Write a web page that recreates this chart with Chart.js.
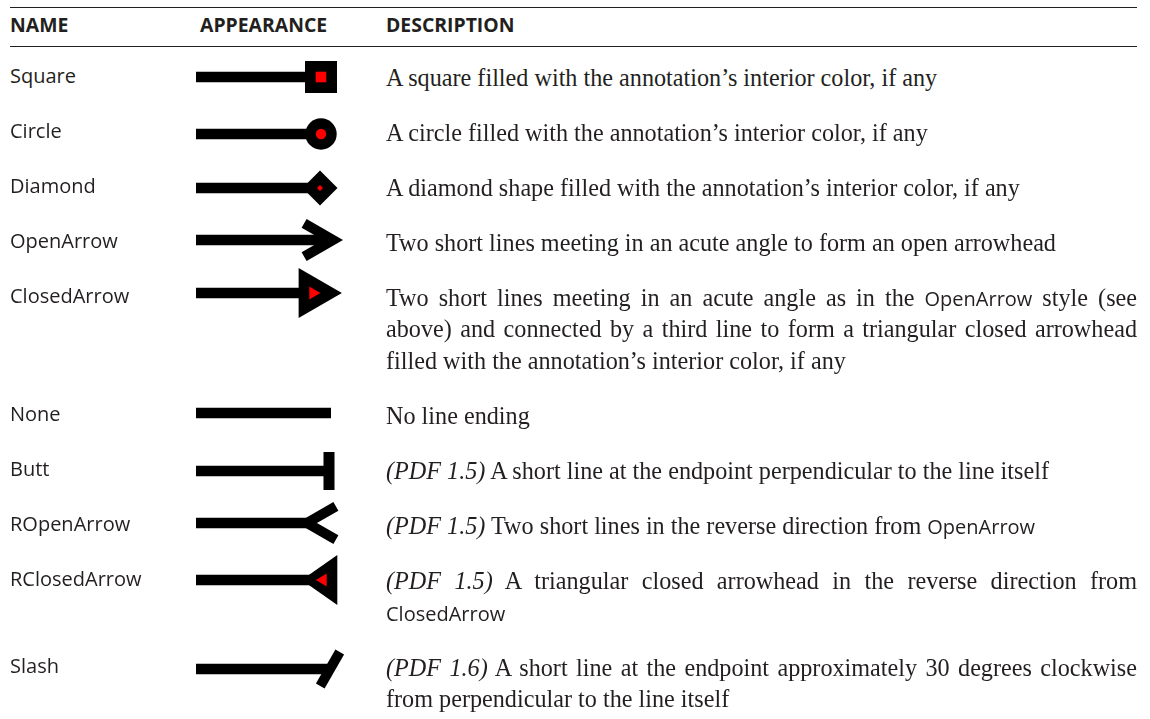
<!DOCTYPE html>
<html><head><meta charset="utf-8">
<script src="https://cdn.jsdelivr.net/npm/chart.js@4.4.1/dist/chart.umd.min.js"></script>
<style>
html,body{margin:0;padding:0;background:#fff;}
body{width:1150px;height:719px;position:relative;overflow:hidden;color:#231f20;}
.rule{position:absolute;left:10px;width:1127px;height:1px;background:#231f20;}
.hdr{position:absolute;top:14.6px;font-family:'Open Sans';font-weight:700;font-size:19.4px;line-height:20px;white-space:nowrap;}
#rows{position:absolute;left:0;top:47px;width:1150px;}
.row{position:relative;padding-top:14.8px;padding-bottom:8.5px;}
.name{position:absolute;left:10px;top:12.7px;font-family:'Open Sans';font-size:20px;line-height:31.7px;white-space:nowrap;}
.desc{margin-left:386px;width:751px;font-family:'Liberation Serif';font-size:24.2px;line-height:31.7px;}
.desc .ln{white-space:nowrap;height:31.7px;}
.desc .j{text-align:justify;text-align-last:justify;}
.sans{font-family:'Open Sans';font-size:20px;}
.glyph{position:absolute;left:180px;width:180px;height:70px;}
</style>
</head><body>
<div class="rule" style="top:7px"></div>
<div class="rule" style="top:46px"></div>
<div id="hdrs"></div>
<div id="rows"></div>
<script>
// ---- data ----
const HEADERS = ['NAME', 'APPEARANCE', 'DESCRIPTION'];
const NAMES = ['Square', 'Circle', 'Diamond', 'OpenArrow', 'ClosedArrow', 'None', 'Butt', 'ROpenArrow', 'RClosedArrow', 'Slash'];
const DESCRIPTIONS = [
  'A square filled with the annotation\u2019s interior color, if any',
  'A circle filled with the annotation\u2019s interior color, if any',
  'A diamond shape filled with the annotation\u2019s interior color, if any',
  'Two short lines meeting in an acute angle to form an open arrowhead',
  'Two short lines meeting in an acute angle as in the {OpenArrow} style (see\nabove) and connected by a third line to form a triangular closed arrowhead\nfilled with the annotation\u2019s interior color, if any',
  'No line ending',
  '[(PDF 1.5)] A short line at the endpoint perpendicular to the line itself',
  '[(PDF 1.5)] Two short lines in the reverse direction from {OpenArrow}',
  '[(PDF 1.5)] A triangular closed arrowhead in the reverse direction from\n{ClosedArrow}',
  '[(PDF 1.6)] A short line at the endpoint approximately 30 degrees clockwise\nfrom perpendicular to the line itself'
];
// each sample line runs from its start (0) to its endpoint (1)
const SHAFT_X = [0, 1];
const SHAFT_Y = [0, 0];

// ---- styling of the glyphs (pixels) ----
const GLYPH_LEFT = 180, GLYPH_W = 180, GLYPH_H = 70, SHAFT_START = 196;
const STYLE = {
  Square:       {end: 321, dy: -6.6},
  Circle:       {end: 321, dy: -4.5},
  Diamond:      {end: 320, dy: -5.5},
  OpenArrow:    {end: 333, dy: -8.5},
  ClosedArrow:  {end: 313, dy: -10},
  None:         {end: 331, dy: -8.2},
  Butt:         {end: 329, dy: -5.4},
  ROpenArrow:   {end: 307, dy: -8.9},
  RClosedArrow: {end: 312, dy: -6.5},
  Slash:        {end: 330, dy: -3.9}
};
const BLACK = '#000000', RED = '#ff0000';

function endImage(kind) {
  if (kind === 'None') return null;
  const c = document.createElement('canvas');
  c.width = 100; c.height = 80;
  const g = c.getContext('2d');
  g.translate(50, 40);
  g.fillStyle = BLACK; g.strokeStyle = BLACK;
  const poly = (pts, col) => { g.fillStyle = col; g.beginPath(); g.moveTo(pts[0][0], pts[0][1]); for (let i = 1; i < pts.length; i++) g.lineTo(pts[i][0], pts[i][1]); g.closePath(); g.fill(); };
  switch (kind) {
    case 'Square':
      g.fillRect(-16, -16, 32, 32); g.fillStyle = RED; g.fillRect(-5.3, -5.3, 10.6, 10.6); break;
    case 'Circle':
      g.beginPath(); g.arc(0, 0, 15.7, 0, Math.PI * 2); g.fill();
      g.fillStyle = RED; g.beginPath(); g.arc(0, 0, 5.2, 0, Math.PI * 2); g.fill(); break;
    case 'Diamond':
      poly([[17.5, 0], [0, -17.5], [-17.5, 0], [0, 17.5]], BLACK);
      poly([[3, 0], [0, -3], [-3, 0], [0, 3]], RED); break;
    case 'OpenArrow':
      g.lineWidth = 10; g.lineJoin = 'miter'; g.lineCap = 'butt';
      g.beginPath(); g.moveTo(-28.9, -16.65); g.lineTo(0, 0); g.lineTo(-28.9, 16.65); g.stroke(); break;
    case 'ClosedArrow':
      poly([[28.9, 0], [-14.4, -25], [-14.4, 25]], BLACK);
      poly([[7.4, 0], [-3.7, -6.4], [-3.7, 6.4]], RED); break;
    case 'Butt':
      g.fillRect(-5.5, -19, 11, 38); break;
    case 'ROpenArrow':
      g.lineWidth = 10; g.lineJoin = 'miter'; g.lineCap = 'butt';
      g.beginPath(); g.moveTo(28.9, -16.65); g.lineTo(0, 0); g.lineTo(28.9, 16.65); g.stroke(); break;
    case 'RClosedArrow':
      poly([[-10.3, 0], [25.3, -25], [25.3, 25]], BLACK);
      poly([[4, 0], [14.7, -6.5], [14.7, 6.5]], RED); break;
    case 'Slash':
      g.rotate(Math.PI / 6); g.fillRect(-5, -19.5, 10, 39); break;
  }
  return c;
}

function esc(s) { return s.replace(/&/g, '&amp;').replace(/</g, '&lt;'); }
function markup(s) {
  return esc(s).replace(/\[(.*?)\]/g, '<i>$1</i>').replace(/\{(.*?)\}/g, '<span class="sans">$1</span>');
}

// headers
const HDR_X = [10, 200, 386];
const hdrs = document.getElementById('hdrs');
HEADERS.forEach((h, i) => {
  const d = document.createElement('div');
  d.className = 'hdr'; d.style.left = HDR_X[i] + 'px'; d.textContent = h;
  hdrs.appendChild(d);
});

// rows
const rows = document.getElementById('rows');
NAMES.forEach((name, i) => {
  const row = document.createElement('div');
  row.className = 'row';
  const nm = document.createElement('div');
  nm.className = 'name'; nm.textContent = name;
  row.appendChild(nm);
  const desc = document.createElement('div');
  desc.className = 'desc';
  const lines = DESCRIPTIONS[i].split('\n');
  lines.forEach((ln, k) => {
    const l = document.createElement('div');
    l.className = 'ln' + (k < lines.length - 1 ? ' j' : '');
    l.innerHTML = markup(ln);
    desc.appendChild(l);
  });
  row.appendChild(desc);

  const st = STYLE[name];
  const wrap = document.createElement('div');
  wrap.className = 'glyph';
  wrap.style.top = (36.3 + st.dy - GLYPH_H / 2) + 'px';
  const cv = document.createElement('canvas');
  cv.width = GLYPH_W; cv.height = GLYPH_H;
  wrap.appendChild(cv);
  row.appendChild(wrap);
  rows.appendChild(row);

  const img = endImage(name);
  const last = SHAFT_X.length - 1;
  new Chart(cv, {
    type: 'line',
    data: {
      datasets: [{
        data: SHAFT_X.map((x, j) => ({x: x, y: SHAFT_Y[j]})),
        borderColor: BLACK,
        borderWidth: 10.5,
        borderCapStyle: 'butt',
        clip: false,
        pointStyle: img || 'circle',
        pointRadius: c => (img && c.dataIndex === last) ? 1 : 0,
        pointHoverRadius: c => (img && c.dataIndex === last) ? 1 : 0,
        pointBorderWidth: 0,
        pointBackgroundColor: BLACK
      }]
    },
    options: {
      responsive: false,
      animation: false,
      events: [],
      layout: {padding: {left: SHAFT_START - GLYPH_LEFT, right: GLYPH_LEFT + GLYPH_W - st.end, top: 0, bottom: 0}},
      scales: {
        x: {type: 'linear', min: 0, max: 1, display: false},
        y: {type: 'linear', min: -1, max: 1, display: false}
      },
      plugins: {legend: {display: false}, tooltip: {enabled: false}}
    }
  });
});
</script>
</body></html>
